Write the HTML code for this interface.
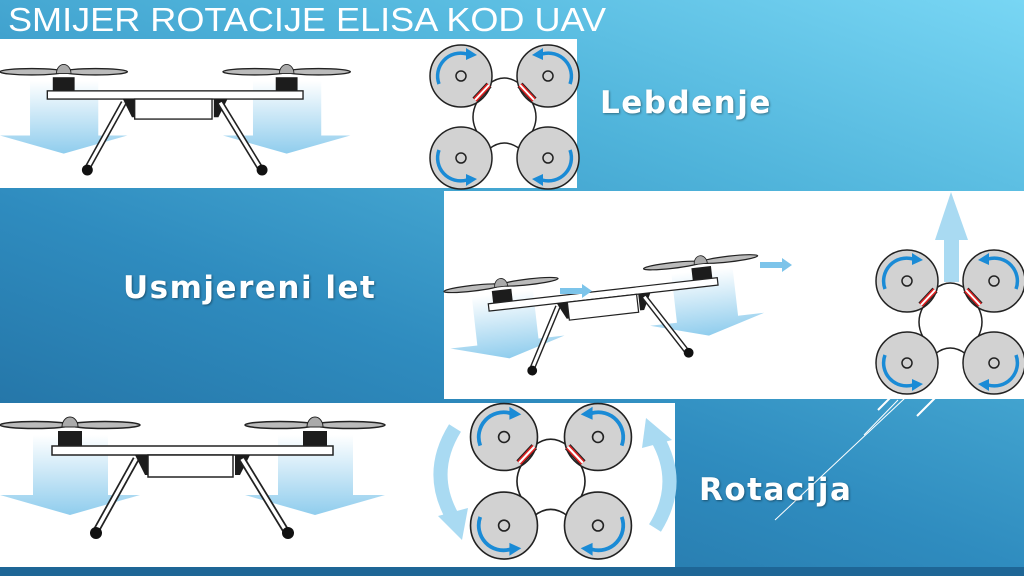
<!DOCTYPE html>
<html><head><meta charset="utf-8"><style>
html,body{margin:0;padding:0}
body{width:1024px;height:576px;overflow:hidden;position:relative;font-family:"Liberation Sans",sans-serif;
background:linear-gradient(200deg,#78d6f4 0%,#4fb3da 30%,#2f8cbf 60%,#1d6597 100%);}
svg{position:absolute;left:0;top:0}
.t{position:absolute;color:#fff;font-weight:bold;font-family:"DejaVu Sans","Liberation Sans",sans-serif;font-size:31px;text-shadow:1px 1px 2px rgba(0,0,0,.4);letter-spacing:1.5px}
</style></head><body>
<svg width="1024" height="576" viewBox="0 0 1024 576">
<defs>
<linearGradient id="ag" x1="0" y1="0" x2="0" y2="1"><stop offset="0" stop-color="#fff"/><stop offset="1" stop-color="#7cc4ea"/></linearGradient>
<g id="drone">
 <path d="M33,35 h75 v60 h32 l-70,20 l-70,-20 h33z" fill="url(#ag)" opacity=".85"/>
 <path d="M278,35 h75 v60 h32 l-70,20 l-70,-20 h33z" fill="url(#ag)" opacity=".85"/>
 <ellipse cx="35" cy="25" rx="35" ry="3.5" fill="#bbb" stroke="#222" stroke-width="1.5"/>
 <ellipse cx="105" cy="25" rx="35" ry="3.5" fill="#bbb" stroke="#222" stroke-width="1.5"/>
 <ellipse cx="280" cy="25" rx="35" ry="3.5" fill="#bbb" stroke="#222" stroke-width="1.5"/>
 <ellipse cx="350" cy="25" rx="35" ry="3.5" fill="#bbb" stroke="#222" stroke-width="1.5"/>
 <path d="M62,27 a8,10 0 0 1 16,0z" fill="#aaa" stroke="#222"/>
 <path d="M307,27 a8,10 0 0 1 16,0z" fill="#aaa" stroke="#222"/>
 <rect x="58" y="31" width="24" height="15" fill="#1c1c1c"/>
 <rect x="303" y="31" width="24" height="15" fill="#1c1c1c"/>
 <rect x="52" y="46" width="281" height="9" fill="#fff" stroke="#222" stroke-width="1.5"/>
 <path d="M135,55 h15 v20 h-5z M250,55 h-15 v20 h5z" fill="#1c1c1c"/>
 <rect x="148" y="55" width="85" height="22" fill="#fff" stroke="#222" stroke-width="1.5"/>
 <path d="M136,59 L96,131" stroke="#222" stroke-width="7"/>
 <path d="M136,59 L96,131" stroke="#fff" stroke-width="3.5"/>
 <path d="M242,59 L286,131" stroke="#222" stroke-width="7"/>
 <path d="M242,59 L286,131" stroke="#fff" stroke-width="3.5"/>
 <circle cx="96" cy="133" r="6" fill="#111"/><circle cx="288" cy="133" r="6" fill="#111"/>
</g>
<g id="quad">
 <path d="M28,8 q15,-12 31,0 M28,73 q15,-12 31,0 M16,26 q-8,15 0,30 M71,26 q8,15 0,30" fill="none" stroke="#222" stroke-width="1.5"/>
 <circle cx="0" cy="0" r="31" fill="#d2d2d2" stroke="#222" stroke-width="1.5"/>
 <circle cx="87" cy="0" r="31" fill="#d2d2d2" stroke="#222" stroke-width="1.5"/>
 <circle cx="0" cy="82" r="31" fill="#d2d2d2" stroke="#222" stroke-width="1.5"/>
 <circle cx="87" cy="82" r="31" fill="#d2d2d2" stroke="#222" stroke-width="1.5"/>
 <path d="M14,24 L28,9 M59,9 L73,24" stroke="#222" stroke-width="7"/>
 <path d="M14,24 L28,9 M59,9 L73,24" stroke="#d22" stroke-width="5"/>
 <path d="M14,24 L28,9 M59,9 L73,24" stroke="#fff" stroke-width="2"/>
 <g fill="none" stroke="#222" stroke-width="1.5"><circle cx="0" cy="0" r="5"/><circle cx="87" cy="0" r="5"/><circle cx="0" cy="82" r="5"/><circle cx="87" cy="82" r="5"/></g>
 <g fill="none" stroke="#1a8bd6" stroke-width="3.5">
  <path d="M-22,8 A23,23 0 0 1 6,-22"/>
  <path d="M109,8 A23,23 0 0 0 81,-22"/>
  <path d="M-22,74 A23,23 0 0 0 6,104"/>
  <path d="M109,74 A23,23 0 0 1 81,104"/>
 </g>
 <g fill="#1a8bd6">
  <path d="M5,-28 L16,-21 L5,-16z"/>
  <path d="M82,-28 L71,-21 L82,-16z"/>
  <path d="M5,110 L16,103 L5,98z"/>
  <path d="M82,110 L71,103 L82,98z"/>
 </g>
</g>
</defs>
<text x="8" y="31" fill="#fff" font-family="Liberation Sans,sans-serif" font-size="33" textLength="598" lengthAdjust="spacingAndGlyphs">SMIJER ROTACIJE ELISA KOD UAV</text>
<rect x="0" y="39" width="577" height="149" fill="#fff"/>
<rect x="444" y="191" width="580" height="208" fill="#fff"/>
<rect x="0" y="403" width="675" height="164" fill="#fff"/>
<rect x="0" y="567" width="1024" height="9" fill="#1e6696"/>
<use href="#drone" transform="translate(0,49) scale(0.91)"/>
<use href="#quad" transform="translate(461,76)"/>
<use href="#drone" transform="translate(501,285) rotate(-6.5) scale(0.82) translate(-70,-25)"/>
<path d="M560,288 h22 v-4 l10,7 l-10,7 v-4 h-22z M760,262 h22 v-4 l10,7 l-10,7 v-4 h-22z" fill="#7cc4ea"/>
<path d="M944,282 V240 H935 L951,192 L968,240 H959 V282z" fill="#a9daf2"/>
<use href="#quad" transform="translate(907,281)"/>
<use href="#drone" transform="translate(0,400)"/>
<path d="M455,428 q-28,45 -2,90" fill="none" stroke="#a9daf2" stroke-width="14"/>
<path d="M438,516 L468,508 L462,540z" fill="#a9daf2"/>
<path d="M655,528 q28,-45 2,-90" fill="none" stroke="#a9daf2" stroke-width="14"/>
<path d="M672,440 L642,448 L646,418z" fill="#a9daf2"/>
<use href="#quad" transform="translate(504,437) scale(1.08)"/>
<g stroke="#fff" stroke-width="1" fill="none">
 <path d="M775,520 L905,398"/><path d="M864,435 L898,400"/>
 <path d="M878,410 L890,398" stroke-width="2"/><path d="M917,416 L935,398" stroke-width="2"/>
</g>
</svg>
<div class="t" style="left:600px;top:85px">Lebdenje</div>
<div class="t" style="left:123px;top:270px">Usmjereni let</div>
<div class="t" style="left:699px;top:472px">Rotacija</div>
</body></html>
